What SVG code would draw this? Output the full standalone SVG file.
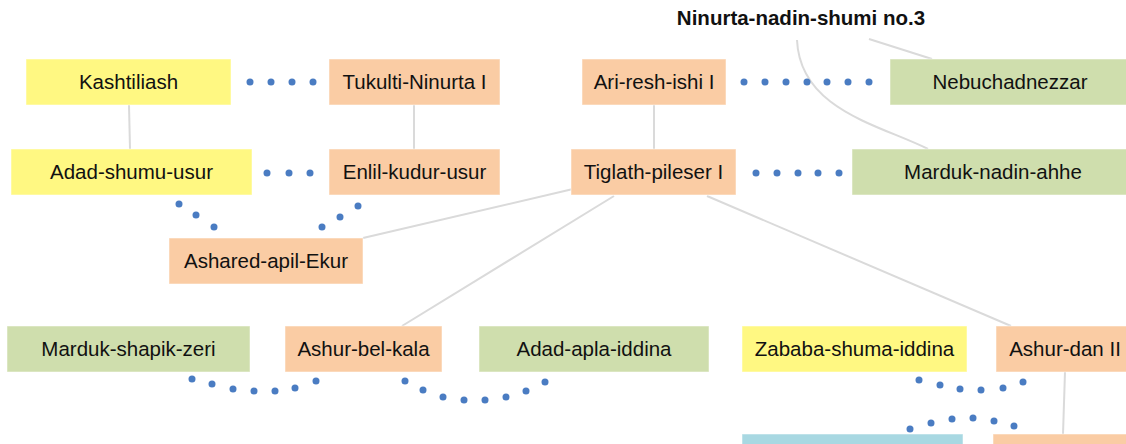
<svg xmlns="http://www.w3.org/2000/svg" width="1126" height="444" viewBox="0 0 1126 444">
  <style>
    .box { stroke: #ffffff; stroke-opacity: 0.5; stroke-width: 1; }
    .yellow { fill: #fff882; }
    .orange { fill: #facca4; }
    .green { fill: #cfdead; }
    .blue { fill: #a8d8e2; }
    .label { font-family: "Liberation Sans", Arial, sans-serif; font-size: 20.5px; fill: #111111; text-anchor: middle; }
    .title { font-weight: bold; }
    .line { fill: none; stroke: #dadada; stroke-width: 2; }
    .dot { fill: #4a7cc2; }
  </style>

  <!-- connectors: parent/child lines and dotted partner links -->
  <g id="connectors">
    <line class="line" x1="129" y1="105" x2="130" y2="149"/>
    <line class="line" x1="414" y1="105" x2="414" y2="149"/>
    <line class="line" x1="654" y1="105" x2="654" y2="149"/>
    <line class="line" x1="869" y1="39" x2="932" y2="59"/>
    <path class="line" d="M797,40 C800,110 880,125 928,149"/>
    <line class="line" x1="573" y1="189" x2="363" y2="238"/>
    <line class="line" x1="614" y1="196" x2="402" y2="326"/>
    <line class="line" x1="707" y1="196" x2="1011" y2="326"/>
    <line class="line" x1="1065" y1="372" x2="1063" y2="434"/>

    <g id="link-kashtiliash-tukulti">
      <circle class="dot" cx="250" cy="82" r="3.5"/>
      <circle class="dot" cx="271" cy="82" r="3.5"/>
      <circle class="dot" cx="292" cy="82" r="3.5"/>
      <circle class="dot" cx="313" cy="82" r="3.5"/>
    </g>
    <g id="link-adadshumu-enlil">
      <circle class="dot" cx="267" cy="173" r="3.5"/>
      <circle class="dot" cx="289" cy="173" r="3.5"/>
      <circle class="dot" cx="310" cy="173" r="3.5"/>
    </g>
    <g id="link-ariresh-nebuchadnezzar">
      <circle class="dot" cx="744" cy="82" r="3.5"/>
      <circle class="dot" cx="765" cy="82" r="3.5"/>
      <circle class="dot" cx="786" cy="82" r="3.5"/>
      <circle class="dot" cx="807" cy="82" r="3.5"/>
      <circle class="dot" cx="827" cy="82" r="3.5"/>
      <circle class="dot" cx="848" cy="82" r="3.5"/>
      <circle class="dot" cx="869" cy="82" r="3.5"/>
    </g>
    <g id="link-tiglath-marduknadin">
      <circle class="dot" cx="756" cy="173" r="3.5"/>
      <circle class="dot" cx="777" cy="173" r="3.5"/>
      <circle class="dot" cx="798" cy="173" r="3.5"/>
      <circle class="dot" cx="818" cy="173" r="3.5"/>
      <circle class="dot" cx="839" cy="173" r="3.5"/>
    </g>
    <g id="link-adadshumu-enlil-lower">
      <circle class="dot" cx="179" cy="204" r="3.5"/>
      <circle class="dot" cx="196" cy="215" r="3.5"/>
      <circle class="dot" cx="214" cy="227" r="3.5"/>
      <circle class="dot" cx="358" cy="206" r="3.5"/>
      <circle class="dot" cx="340" cy="217" r="3.5"/>
      <circle class="dot" cx="322" cy="227" r="3.5"/>
    </g>
    <g id="link-mardukshapik-ashurbel">
      <circle class="dot" cx="192" cy="379" r="3.5"/>
      <circle class="dot" cx="212" cy="384" r="3.5"/>
      <circle class="dot" cx="233" cy="389" r="3.5"/>
      <circle class="dot" cx="254" cy="391" r="3.5"/>
      <circle class="dot" cx="275" cy="391" r="3.5"/>
      <circle class="dot" cx="295" cy="388" r="3.5"/>
      <circle class="dot" cx="316" cy="381" r="3.5"/>
    </g>
    <g id="link-ashurbel-adadapla">
      <circle class="dot" cx="405" cy="381" r="3.5"/>
      <circle class="dot" cx="423" cy="390" r="3.5"/>
      <circle class="dot" cx="443" cy="397" r="3.5"/>
      <circle class="dot" cx="464" cy="400" r="3.5"/>
      <circle class="dot" cx="485" cy="400" r="3.5"/>
      <circle class="dot" cx="506" cy="397" r="3.5"/>
      <circle class="dot" cx="526" cy="391" r="3.5"/>
      <circle class="dot" cx="545" cy="382" r="3.5"/>
    </g>
    <g id="link-zababa-ashurdan">
      <circle class="dot" cx="919" cy="380" r="3.5"/>
      <circle class="dot" cx="940" cy="385" r="3.5"/>
      <circle class="dot" cx="960" cy="389" r="3.5"/>
      <circle class="dot" cx="981" cy="390" r="3.5"/>
      <circle class="dot" cx="1003" cy="388" r="3.5"/>
      <circle class="dot" cx="1023" cy="382" r="3.5"/>
    </g>
    <g id="link-bottom-row">
      <circle class="dot" cx="910" cy="429" r="3.5"/>
      <circle class="dot" cx="931" cy="423" r="3.5"/>
      <circle class="dot" cx="952" cy="419" r="3.5"/>
      <circle class="dot" cx="973" cy="418" r="3.5"/>
      <circle class="dot" cx="994" cy="421" r="3.5"/>
      <circle class="dot" cx="1014" cy="426" r="3.5"/>
    </g>
  </g>

  <g id="ninurta-nadin-shumi">
    <text class="label title" x="801" y="25">Ninurta-nadin-shumi no.3</text>
  </g>

  <g id="kashtiliash">
    <rect class="box yellow" x="26" y="59" width="205" height="46"/>
    <text class="label" x="128.5" y="89">Kashtiliash</text>
  </g>
  <g id="tukulti-ninurta">
    <rect class="box orange" x="329" y="59" width="171" height="46"/>
    <text class="label" x="414.5" y="89">Tukulti-Ninurta I</text>
  </g>
  <g id="ari-resh-ishi">
    <rect class="box orange" x="582" y="59" width="144" height="46"/>
    <text class="label" x="654" y="89">Ari-resh-ishi I</text>
  </g>
  <g id="nebuchadnezzar">
    <rect class="box green" x="890" y="59" width="240" height="46"/>
    <text class="label" x="1010" y="89">Nebuchadnezzar</text>
  </g>

  <g id="adad-shumu-usur">
    <rect class="box yellow" x="11" y="149" width="241" height="46"/>
    <text class="label" x="131.5" y="179">Adad-shumu-usur</text>
  </g>
  <g id="enlil-kudur-usur">
    <rect class="box orange" x="329" y="149" width="171" height="46"/>
    <text class="label" x="414.5" y="179">Enlil-kudur-usur</text>
  </g>
  <g id="tiglath-pileser">
    <rect class="box orange" x="571" y="149" width="165" height="46"/>
    <text class="label" x="653.5" y="179">Tiglath-pileser I</text>
  </g>
  <g id="marduk-nadin-ahhe">
    <rect class="box green" x="852" y="149" width="282" height="46"/>
    <text class="label" x="993" y="179">Marduk-nadin-ahhe</text>
  </g>

  <g id="ashared-apil-ekur">
    <rect class="box orange" x="169" y="238" width="194" height="46"/>
    <text class="label" x="266" y="268">Ashared-apil-Ekur</text>
  </g>

  <g id="marduk-shapik-zeri">
    <rect class="box green" x="7" y="326" width="243" height="46"/>
    <text class="label" x="128.5" y="356">Marduk-shapik-zeri</text>
  </g>
  <g id="ashur-bel-kala">
    <rect class="box orange" x="285" y="326" width="157" height="46"/>
    <text class="label" x="363.5" y="356">Ashur-bel-kala</text>
  </g>
  <g id="adad-apla-iddina">
    <rect class="box green" x="479" y="326" width="230" height="46"/>
    <text class="label" x="594" y="356">Adad-apla-iddina</text>
  </g>
  <g id="zababa-shuma-iddina">
    <rect class="box yellow" x="742" y="326" width="225" height="46"/>
    <text class="label" x="854.5" y="356">Zababa-shuma-iddina</text>
  </g>
  <g id="ashur-dan">
    <rect class="box orange" x="996" y="326" width="138" height="46"/>
    <text class="label" x="1065" y="356">Ashur-dan II</text>
  </g>

  <g id="bottom-left">
    <rect class="box blue" x="742" y="434" width="221" height="46"/>
  </g>
  <g id="bottom-right">
    <rect class="box orange" x="993" y="434" width="141" height="46"/>
  </g>
</svg>
